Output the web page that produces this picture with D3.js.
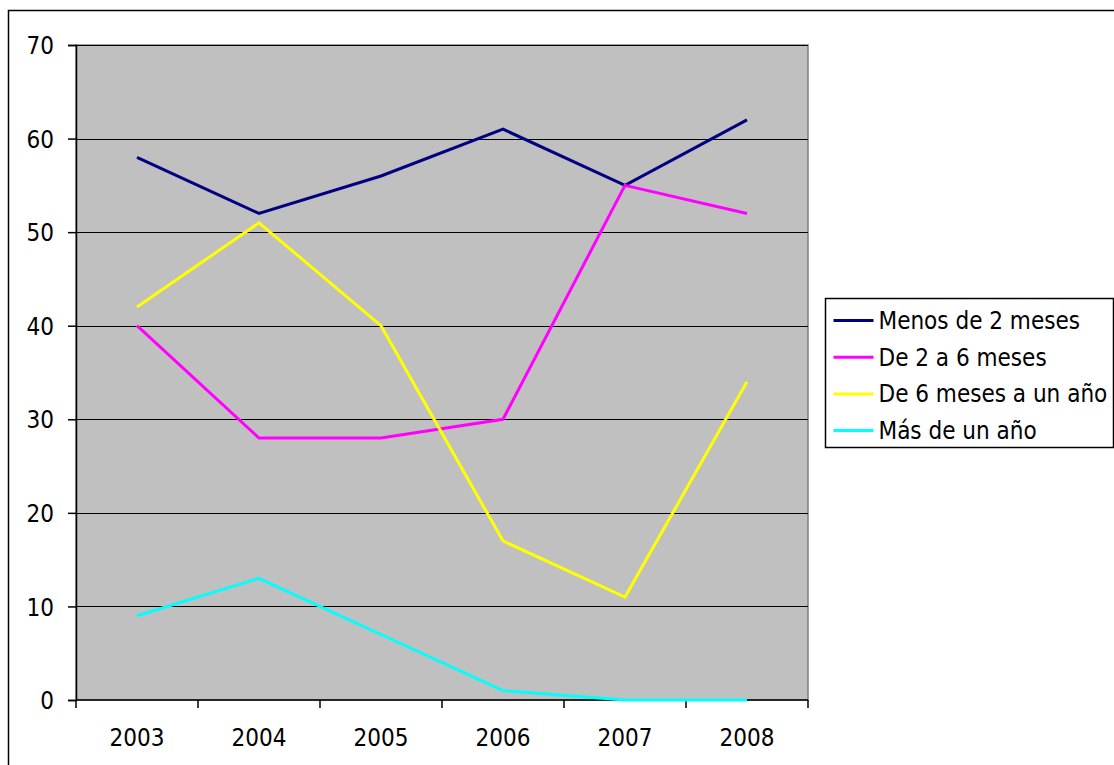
<!DOCTYPE html>
<html>
<head>
<meta charset="utf-8">
<script src="https://cdn.jsdelivr.net/npm/d3@7"></script>
<style>
  body { margin: 0; background: #fff; }
  svg text { font-family: "DejaVu Sans Condensed", "DejaVu Sans", sans-serif; font-stretch: condensed; font-size: 24px; fill: #000; }
</style>
</head>
<body>
<div id="chart"></div>
<script>
// Years on the x axis
var years = ["2003", "2004", "2005", "2006", "2007", "2008"];

// Series names and values
var seriesNames = ["Menos de 2 meses", "De 2 a 6 meses", "De 6 meses a un año", "Más de un año"];
var menosDe2 = [58, 52, 56, 61, 55, 62];
var de2a6 = [40, 28, 28, 30, 55, 52];
var de6aAnio = [42, 51, 40, 17, 11, 34];
var masDeAnio = [9, 13, 7, 1, 0, 0];
var yTicks = [0, 10, 20, 30, 40, 50, 60, 70];

var colors = ["#000080", "#FF00FF", "#FFFF00", "#00FFFF"];
var allSeries = [menosDe2, de2a6, de6aAnio, masDeAnio];

var width = 1114, height = 765;
var plot = { left: 76, top: 45, right: 808, bottom: 700 };

var svg = d3.select("#chart")
    .append("svg")
    .attr("width", width)
    .attr("height", height);

// outer chart border
svg.append("rect")
    .attr("x", 8.5).attr("y", 10.5)
    .attr("width", 1200).attr("height", 900)
    .attr("fill", "#fff")
    .attr("stroke", "#000")
    .attr("stroke-width", 1.5);

var x = d3.scaleBand().domain(years).range([plot.left, plot.right]);
var y = d3.scaleLinear().domain([0, 70]).range([plot.bottom, plot.top]);

// plot area
svg.append("rect")
    .attr("x", plot.left).attr("y", plot.top)
    .attr("width", plot.right - plot.left)
    .attr("height", plot.bottom - plot.top)
    .attr("fill", "#C0C0C0")
    .attr("stroke", "#808080")
    .attr("stroke-width", 1.5);

// gridlines
svg.append("g")
    .selectAll("line")
    .data(yTicks.filter(d => d > 0))
    .enter()
    .append("line")
    .attr("x1", plot.left).attr("x2", plot.right)
    .attr("y1", d => Math.round(y(d)) + 0.5)
    .attr("y2", d => Math.round(y(d)) + 0.5)
    .attr("stroke", "#000")
    .attr("stroke-width", 1);

// y axis
var yAxis = d3.axisLeft(y).tickValues(yTicks).tickSize(8).tickPadding(14);
svg.append("g")
    .attr("transform", "translate(" + plot.left + ",0)")
    .call(yAxis)
    .call(g => g.selectAll("path,line").attr("stroke", "#000").attr("stroke-width", 1.5))
    .call(g => g.selectAll("text").style("font-size", "24px").attr("dy", "0.36em"))
    .call(g => g.attr("font-family", null).attr("font-size", null));

// x axis with ticks at category boundaries
svg.append("g")
    .attr("transform", "translate(0," + plot.bottom + ")")
    .call(g => g.append("line")
        .attr("x1", plot.left).attr("x2", plot.right)
        .attr("stroke", "#000").attr("stroke-width", 1.5))
    .call(g => g.selectAll(".tick")
        .data(years.map(d => x(d)).concat([plot.right]))
        .enter()
        .append("line")
        .attr("x1", d => d).attr("x2", d => d)
        .attr("y1", 0).attr("y2", 8)
        .attr("stroke", "#000").attr("stroke-width", 1.5))
    .call(g => g.selectAll("text")
        .data(years)
        .enter()
        .append("text")
        .attr("x", d => x(d) + x.bandwidth() / 2)
        .attr("y", 46)
        .attr("text-anchor", "middle")
        .text(d => d));

// lines
var line = d3.line()
    .x((d, i) => x(years[i]) + x.bandwidth() / 2)
    .y(d => y(d));

svg.append("g")
    .selectAll("path")
    .data(allSeries)
    .enter()
    .append("path")
    .attr("d", line)
    .attr("fill", "none")
    .attr("stroke", (d, i) => colors[i])
    .attr("stroke-width", 3);

// legend
var legend = svg.append("g").attr("transform", "translate(825.5,298.5)");
legend.append("rect")
    .attr("width", 288).attr("height", 149)
    .attr("fill", "#fff")
    .attr("stroke", "#000")
    .attr("stroke-width", 1.5);

var items = legend.selectAll(".item")
    .data(seriesNames)
    .enter()
    .append("g")
    .attr("class", "item")
    .attr("transform", (d, i) => "translate(0," + (22 + i * 36.7) + ")");

items.append("line")
    .attr("x1", 8).attr("x2", 48)
    .attr("stroke", (d, i) => colors[i])
    .attr("stroke-width", 3);

items.append("text")
    .attr("x", 53)
    .attr("y", 8.5)
    .text(d => d);
</script>
</body>
</html>
